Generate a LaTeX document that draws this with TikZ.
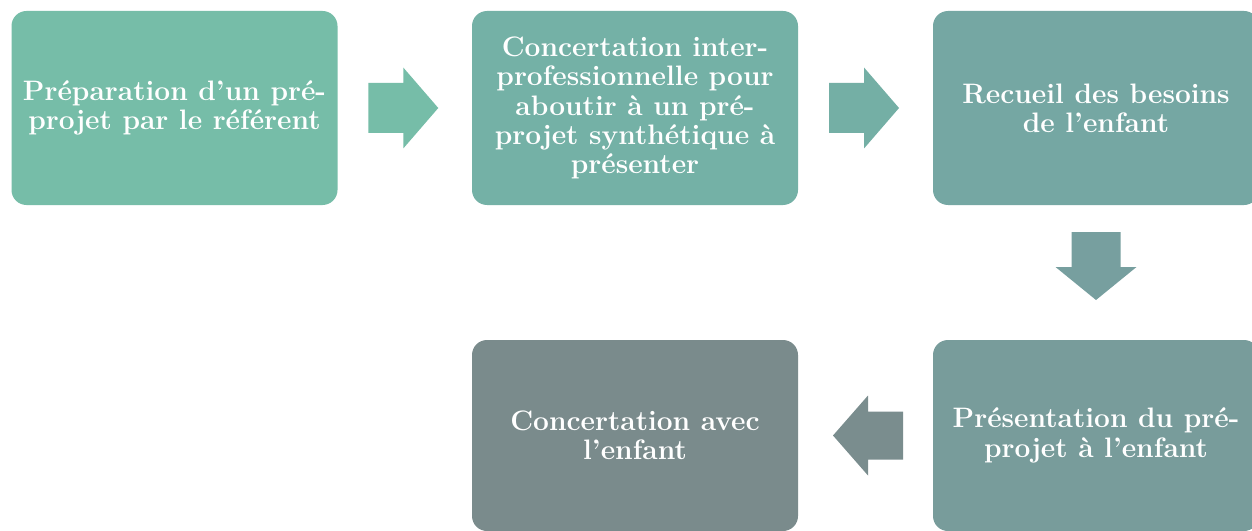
\documentclass[tikz,border=0pt]{standalone}
\usetikzlibrary{calc}
\definecolor{cA}{HTML}{76BDA8}
\definecolor{cB}{HTML}{74B1A6}
\definecolor{cC}{HTML}{75A7A3}
\definecolor{cD}{HTML}{789C9B}
\definecolor{cE}{HTML}{7A8B8C}
\definecolor{aA}{HTML}{76BDA8}
\definecolor{aB}{HTML}{74AFA5}
\definecolor{aC}{HTML}{779F9F}
\definecolor{aD}{HTML}{7A8D8E}
\begin{document}
\begin{tikzpicture}[x=0.75pt,y=-0.75pt,
  box/.style={rounded corners=11.25pt, minimum width=244.5pt, minimum height=145.5pt,
    inner sep=0pt, align=center, text=white,
    font=\bfseries\fontsize{21.1}{22}\selectfont},
  lowbox/.style={box, minimum height=143.25pt}]
\useasboundingbox (0,0) rectangle (1252,531);
\clip (0,0) rectangle (1252,531);
\fill[white] (0,0) rectangle (1252,531);
\node[box, fill=cA] (b1) at (174.5,108) {Préparation d’un pré-\\projet par le référent};
\node[box, fill=cB] (b2) at (635,108) {Concertation inter-\\professionnelle pour\\aboutir à un pré-\\projet synthétique à\\présenter};
\node[box, fill=cC] (b3) at (1096,108) {Recueil des besoins\\de l’enfant};
\node[lowbox, fill=cD] (b4) at (1096,435.5) {Présentation du pré-\\projet à l’enfant};
\node[lowbox, fill=cE] (b5) at (635,435.5) {Concertation avec\\l’enfant};
\coordinate (m12) at ($(b1.east)!0.5!(b2.west)$);
\coordinate (m23) at ($(b2.east)!0.5!(b3.west)$);
\coordinate (m34) at ($(b3.south)!0.5!(b4.north)$);
\coordinate (m45) at ($(b5.east)!0.5!(b4.west)$);
\fill[aA, shift={(m12)}] (-36.5,-25) -- (-1.5,-25) -- (-1.5,-40.5) -- (33.5,0) -- (-1.5,40.5) -- (-1.5,25) -- (-36.5,25) -- cycle;
\fill[aB, shift={(m23)}] (-36.5,-25) -- (-1.5,-25) -- (-1.5,-40.5) -- (33.5,0) -- (-1.5,40.5) -- (-1.5,25) -- (-36.5,25) -- cycle;
\fill[aC, shift={(m34)}] (-24.5,-40.5) -- (-24.5,-5.5) -- (-40.5,-5.5) -- (0,27.5) -- (40.5,-5.5) -- (24.5,-5.5) -- (24.5,-40.5) -- cycle;
\fill[aD, shift={(m45)}] (37.5,-24) -- (2.5,-24) -- (2.5,-40) -- (-32.5,0) -- (2.5,40) -- (2.5,24) -- (37.5,24) -- cycle;
\end{tikzpicture}
\end{document}
